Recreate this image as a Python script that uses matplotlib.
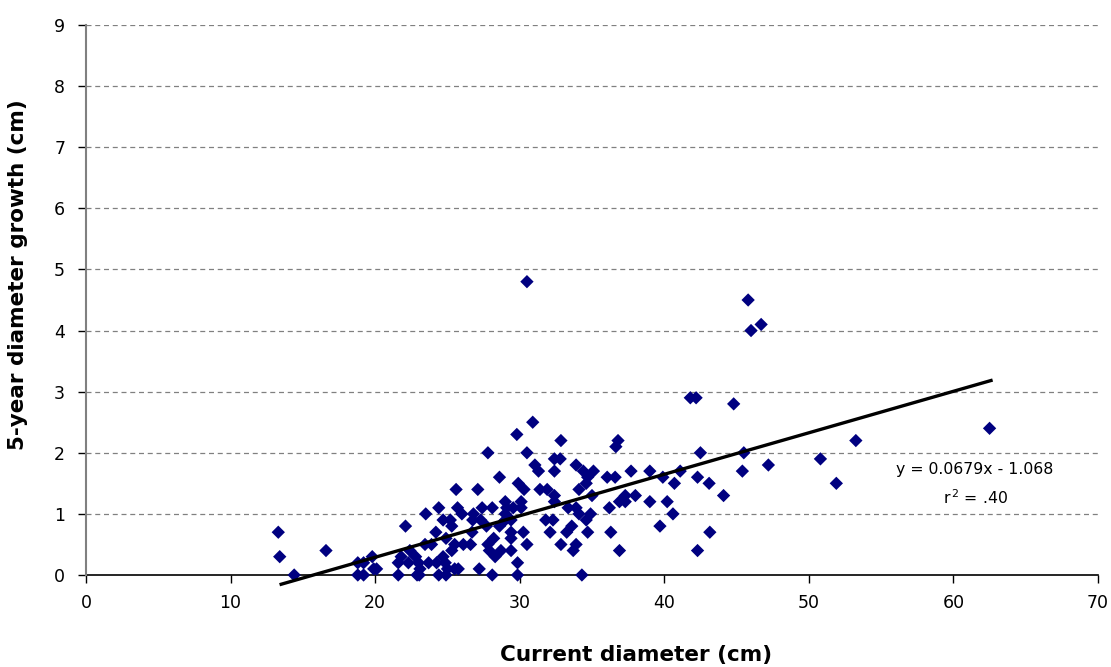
import matplotlib
matplotlib.use("Agg")
import matplotlib.pyplot as plt
import numpy as np

diameter = [13.3, 13.4, 14.4, 16.6, 18.8, 19.2, 18.8, 19.2, 19.8, 19.9, 20.1,
            21.6, 21.6, 21.8, 22.1, 22.3, 22.4, 22.8, 22.9, 23.0, 23.1, 23.05,
            23.45, 23.5, 23.7, 23.9, 24.2, 24.25, 24.4, 24.4, 24.7, 24.7, 24.85,
            24.9, 24.9, 25.0, 25.2, 25.3, 25.3, 25.5, 25.5, 25.6, 25.7, 25.75,
            26.0, 26.1, 26.6, 26.7, 26.75, 26.8, 27.2, 27.1, 27.3, 27.4, 27.7,
            27.8, 27.8, 27.9, 28.1, 28.1, 28.2, 28.3, 28.6, 28.6, 28.7, 29.0,
            29.0, 29.1, 29.0, 29.4, 29.4, 29.4, 29.4, 29.55, 29.8, 29.85, 29.85,
            29.9, 30.1, 30.1, 30.25, 30.3, 30.5, 30.5, 30.5, 30.9, 31.05, 31.3,
            31.4, 31.8, 31.9, 32.1, 32.3, 32.4, 32.4, 32.4, 32.4, 32.8, 32.85,
            32.85, 33.25, 33.35, 33.6, 33.7, 33.9, 33.9, 33.9, 34.1, 34.1, 34.3,
            34.4, 34.6, 34.6, 34.7, 34.7, 34.9, 35.1, 35.0, 36.05, 36.2, 36.3,
            36.6, 36.65, 36.8, 36.9, 36.9, 37.3, 37.3, 37.7, 38.0, 39.0, 39.0,
            39.7, 39.9, 40.2, 40.6, 40.7, 41.1, 41.8, 42.2, 42.3, 42.3, 42.5,
            43.1, 43.15, 44.1, 44.8, 45.4, 45.5, 45.8, 46.0, 46.7, 47.2, 50.8,
            51.9, 53.25, 62.5]
growth = [0.7, 0.3, 0.0, 0.4, 0.2, 0.2, 0.0, 0.0, 0.3, 0.1, 0.1,
          0.2, 0.0, 0.3, 0.8, 0.2, 0.4, 0.3, 0.0, 0.2, 0.1, 0.0,
          0.5, 1.0, 0.2, 0.5, 0.7, 0.2, 1.1, 0.0, 0.9, 0.3, 0.2,
          0.6, 0.0, 0.1, 0.9, 0.8, 0.4, 0.5, 0.1, 1.4, 1.1, 0.1,
          1.0, 0.5, 0.5, 0.7, 0.9, 1.0, 0.1, 1.4, 0.9, 1.1, 0.8,
          2.0, 0.5, 0.4, 1.1, 0.0, 0.6, 0.3, 1.6, 0.8, 0.4, 1.2,
          1.0, 1.1, 0.9, 0.9, 0.7, 0.6, 0.4, 1.1, 2.3, 0.2, 0.0,
          1.5, 1.2, 1.1, 0.7, 1.4, 2.0, 0.5, 4.8, 2.5, 1.8, 1.7,
          1.4, 0.9, 1.4, 0.7, 0.9, 1.9, 1.7, 1.3, 1.2, 1.9, 2.2,
          0.5, 0.7, 1.1, 0.8, 0.4, 1.8, 1.1, 0.5, 1.4, 1.0, 0.0,
          1.7, 1.5, 0.9, 1.6, 0.7, 1.0, 1.7, 1.3, 1.6, 1.1, 0.7,
          1.6, 2.1, 2.2, 1.2, 0.4, 1.3, 1.2, 1.7, 1.3, 1.7, 1.2,
          0.8, 1.6, 1.2, 1.0, 1.5, 1.7, 2.9, 2.9, 1.6, 0.4, 2.0,
          1.5, 0.7, 1.3, 2.8, 1.7, 2.0, 4.5, 4.0, 4.1, 1.8, 1.9,
          1.5, 2.2, 2.4]

slope = 0.0679
intercept = -1.068
fit_x = [13.5, 62.6]
eq_text = "y = 0.0679x - 1.068"
r2_text = "r$^{\\,2}$ = .40"

plt.rcParams['font.family'] = ['DejaVu Sans']
fig = plt.figure(figsize=(11.11, 6.67), dpi=100)
ax = fig.add_axes([86/1111, 1-575/667, (1098-86)/1111, (575-25)/667])

ax.set_xlim(0, 70)
ax.set_ylim(0, 9)

for yv in range(1, 10):
    ax.axhline(yv, color='#808080', lw=0.9, ls=(0, (4, 3)), zorder=1)

ax.scatter(diameter, growth, marker='D', s=46, color='#000080', edgecolors='none',
           zorder=3, clip_on=False)
fx = np.array(fit_x)
ax.plot(fx, slope*fx + intercept, color='black', lw=2.4, zorder=4, clip_on=False)

ax.text(61.5, 1.73, eq_text, ha='center', va='center', fontsize=11.3)
ax.text(61.5, 1.26, r2_text, ha='center', va='center', fontsize=11.3)

for s in ['top', 'right']:
    ax.spines[s].set_visible(False)
ax.spines['left'].set_color('#808080')
ax.spines['left'].set_linewidth(1.5)
ax.spines['bottom'].set_color('black')
ax.spines['bottom'].set_linewidth(1.2)
ax.spines['bottom'].set_zorder(2)

ax.set_xticks(range(0, 71, 10))
ax.set_yticks(range(0, 10))
ax.tick_params(axis='x', direction='out', length=6, width=1, pad=8, labelsize=12.5)
ax.tick_params(axis='y', direction='out', length=6, width=1, pad=9, labelsize=12.5)

ax.set_xlabel('Current diameter (cm)', fontsize=15.5, fontweight='bold', va='center')
ax.xaxis.set_label_coords((636-86)/1012, (575-655)/550)
ax.set_ylabel('5-year diameter growth (cm)', fontsize=15.5, fontweight='bold', va='center')
ax.yaxis.set_label_coords((18-86)/1012, (575-275)/550)

fig.savefig('out.png', dpi=100)
